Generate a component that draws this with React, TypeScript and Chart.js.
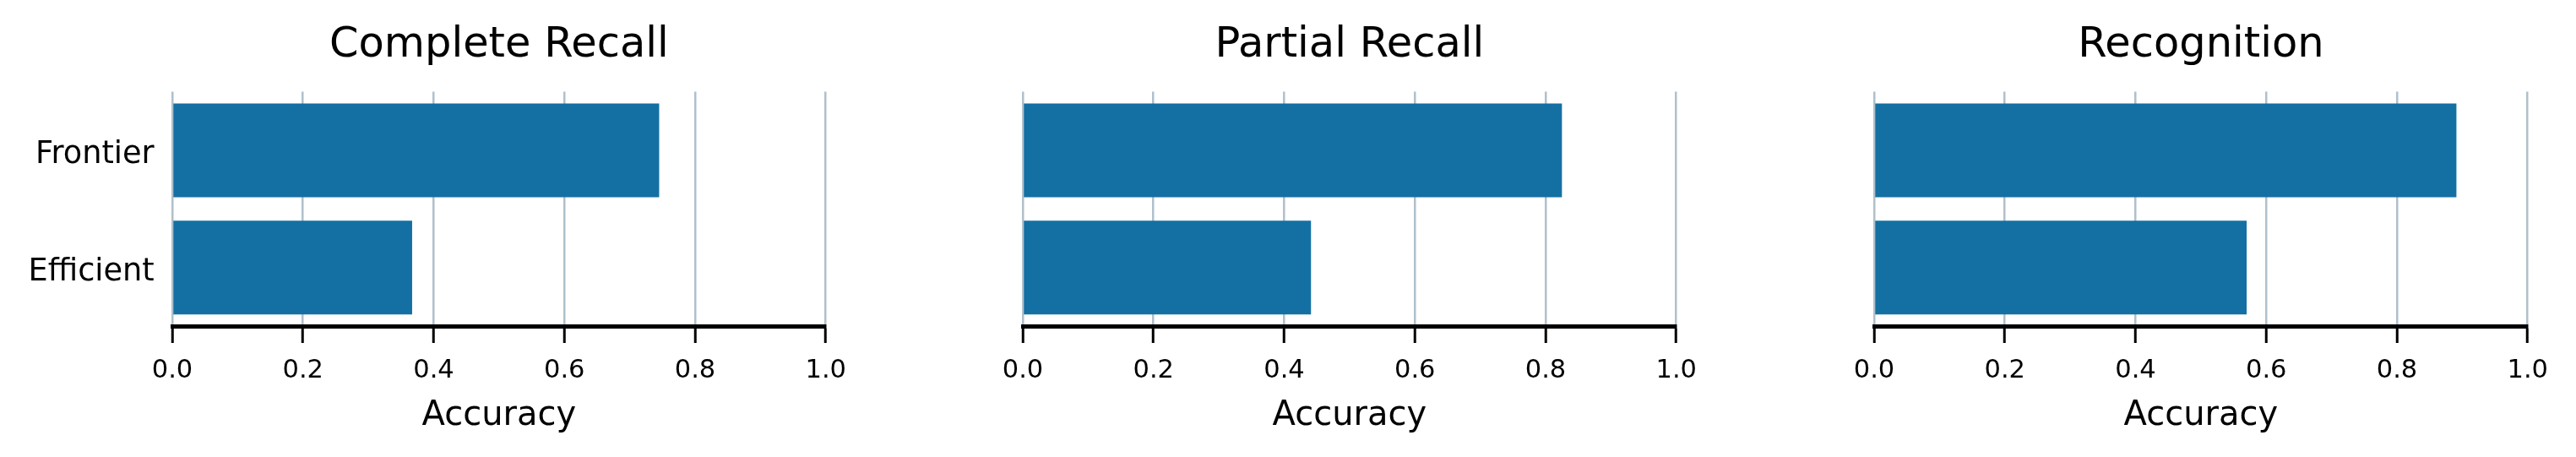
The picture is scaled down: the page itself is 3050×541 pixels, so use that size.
import React, { useEffect, useRef } from "react";
import { Chart, registerables } from "chart.js";

Chart.register(...registerables);

const categories = ["Frontier", "Efficient"];
const panelTitles = ["Complete Recall", "Partial Recall", "Recognition"];
const completeRecall = [0.745, 0.367];
const partialRecall = [0.825, 0.441];
const recognition = [0.891, 0.57];
const panelValues = [completeRecall, partialRecall, recognition];
const xTickValues = [0, 0.2, 0.4, 0.6, 0.8, 1.0];
const xAxisTitle = "Accuracy";

const FONT = '"DejaVu Sans", sans-serif';
const BAR_COLOR = "#1470a3";
const GRID_COLOR = "#b0c0cc";

const CANVAS_W = 1017;
const CANVAS_H = 541;
const PANEL_LEFTS = [0, 1007, 2015];

function Panel({ title, values, left, showY }: { title: string; values: number[]; left: number; showY: boolean }) {
  const ref = useRef<HTMLCanvasElement | null>(null);
  useEffect(() => {
    if (!ref.current) return;
    const chart = new Chart(ref.current, {
      type: "bar",
      data: {
        labels: categories,
        datasets: [
          {
            data: values,
            backgroundColor: BAR_COLOR,
            borderWidth: 0,
            barPercentage: 0.8,
            categoryPercentage: 1.0,
          },
        ],
      },
      options: {
        indexAxis: "y",
        responsive: false,
        animation: false,
        devicePixelRatio: 1,
        layout: { padding: { left: 0, right: 28, top: 0, bottom: 0 } },
        plugins: {
          legend: { display: false },
          tooltip: { enabled: false },
          title: {
            display: true,
            text: title,
            fullSize: false,
            color: "#000",
            font: { family: FONT, size: 49.5, weight: "normal", lineHeight: 1.2 },
            padding: { top: 24, bottom: 25.1 },
          },
        },
        scales: {
          x: {
            type: "linear",
            position: "bottom",
            min: 0,
            max: 1,
            afterBuildTicks: (scale: any) => {
              scale.ticks = xTickValues.map((v) => ({ value: v }));
            },
            afterFit: (scale: any) => {
              scale.height = 155;
            },
            ticks: {
              color: "#000",
              font: { family: FONT, size: 30.5 },
              padding: 15,
              maxRotation: 0,
              autoSkip: false,
              callback: (v: any) => Number(v).toFixed(1),
            },
            grid: {
              display: true,
              drawOnChartArea: true,
              drawTicks: true,
              color: GRID_COLOR,
              lineWidth: 2.5,
              tickColor: "#000",
              tickWidth: 3,
              tickLength: 20,
            },
            border: { display: true, color: "#000", width: 5 },
            title: {
              display: true,
              text: xAxisTitle,
              color: "#000",
              font: { family: FONT, size: 40, lineHeight: 1.2 },
              padding: { top: 0, bottom: 24 },
            },
          },
          y: {
            type: "category",
            position: "left",
            offset: true,
            afterFit: (scale: any) => {
              scale.width = 204;
            },
            ticks: {
              display: showY,
              color: "#000",
              font: { family: FONT, size: 36.7 },
              padding: 21.3,
              labelOffset: 6,
            },
            grid: { display: false, drawTicks: false, drawOnChartArea: false },
            border: { display: false },
          },
        },
      },
    } as any);
    return () => chart.destroy();
  }, [title, values, showY]);
  return (
    <canvas
      ref={ref}
      width={CANVAS_W}
      height={CANVAS_H}
      style={{ position: "absolute", left, top: 0, width: CANVAS_W, height: CANVAS_H, display: "block" }}
    />
  );
}

export default function App() {
  return (
    <div style={{ position: "absolute", left: 0, top: 0, width: 3050, height: 541, background: "#fff", overflow: "hidden" }}>
      {panelTitles.map((t, i) => (
        <Panel key={t} title={t} values={panelValues[i]} left={PANEL_LEFTS[i]} showY={i === 0} />
      ))}
    </div>
  );
}
